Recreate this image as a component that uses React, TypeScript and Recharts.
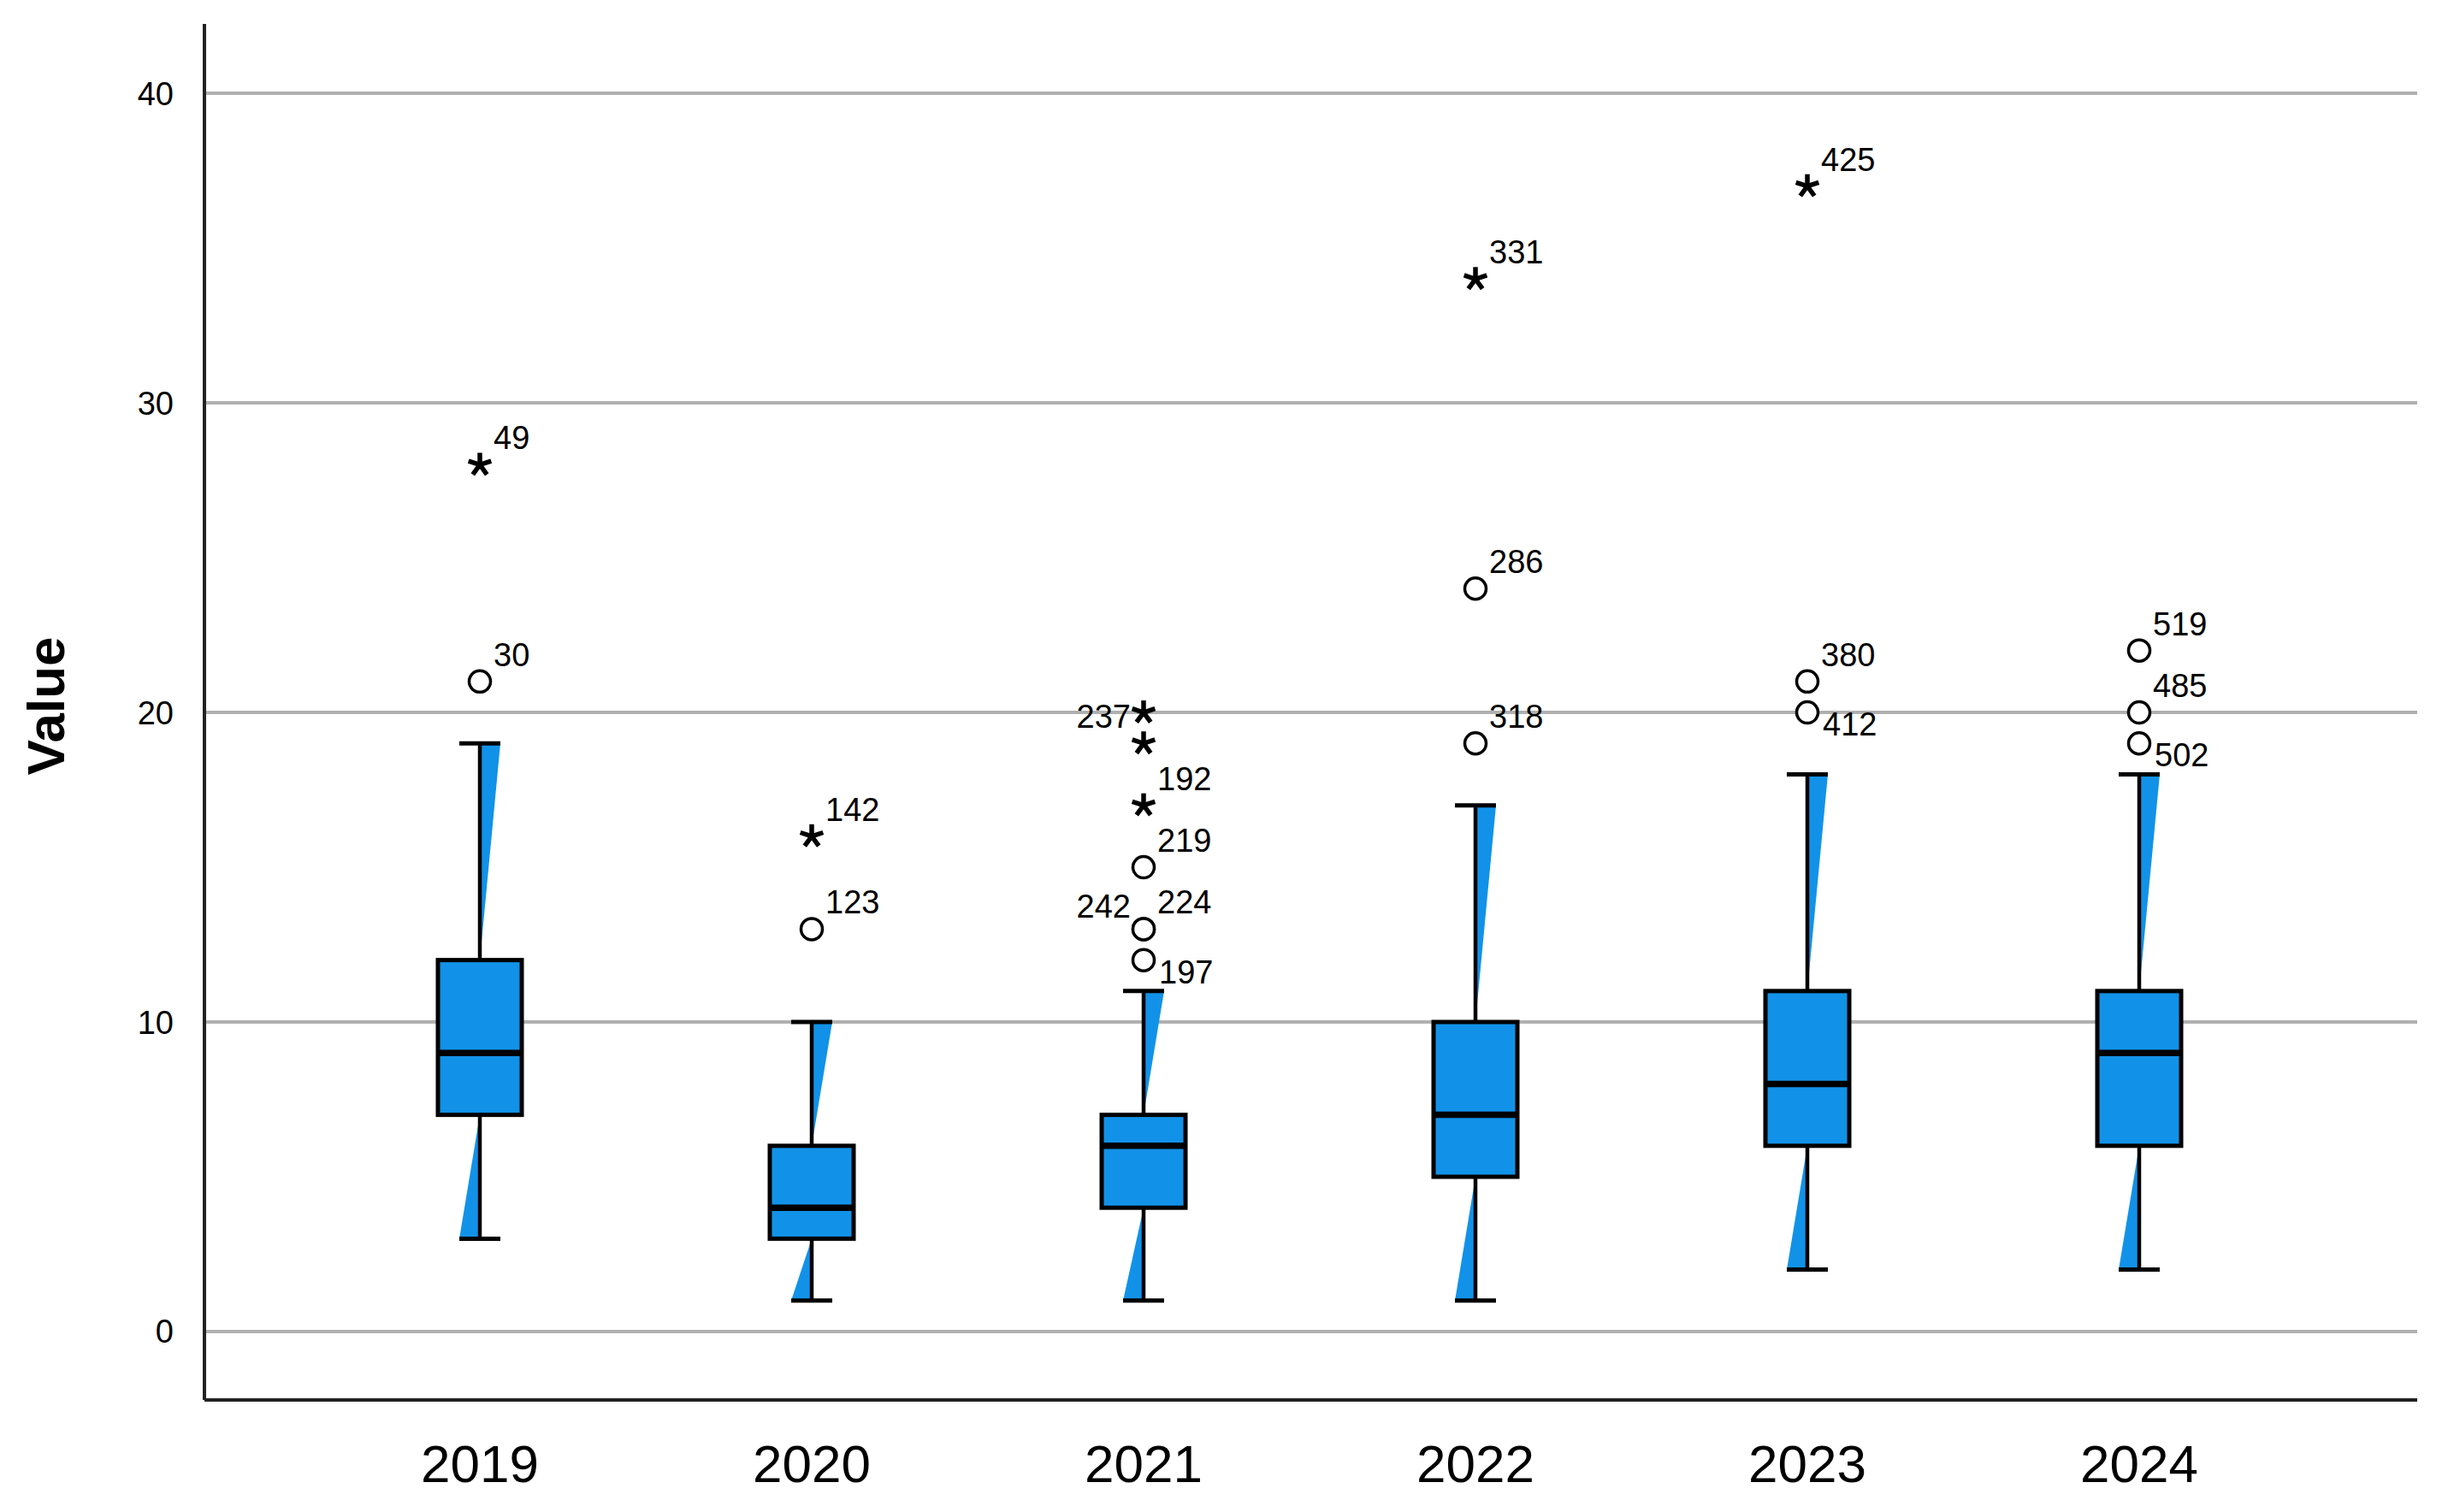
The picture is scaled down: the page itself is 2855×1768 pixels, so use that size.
import React from 'react';
import { ComposedChart, Bar, Scatter, XAxis, YAxis, CartesianGrid } from 'recharts';

// ---- data ----
const years = ['2019', '2020', '2021', '2022', '2023', '2024'];
const mins = [3, 1, 1, 1, 2, 2];
const q1s = [7, 3, 4, 5, 6, 6];
const medians = [9, 4, 6, 7, 8, 9];
const q3s = [12, 6, 7, 10, 11, 11];
const maxs = [19, 10, 11, 17, 18, 18];

const outlierGroup = [0, 0, 1, 1, 2, 2, 2, 2, 2, 2, 2, 3, 3, 3, 4, 4, 4, 5, 5, 5];
const outlierValue = [21, 28, 13, 16, 12, 13, 13, 15, 17, 19, 20, 19, 24, 34, 20, 21, 37, 19, 20, 22];
const outlierKind = ['o', '*', 'o', '*', 'o', 'o', 'o', 'o', '*', '*', '*', 'o', 'o', '*', 'o', 'o', '*', 'o', 'o', 'o'];
const outlierLabel = ['30', '49', '123', '142', '197', '242', '224', '219', '192', '', '237', '318', '286', '331', '412', '380', '425', '502', '485', '519'];
// label placement relative to the marker: ur = upper right, lr = lower right, ul = upper left, l = left
const labelPlacement = ['ur', 'ur', 'ur', 'ur', 'lr', 'ul', 'ur', 'ur', 'ur', 'ur', 'l', 'ur', 'ur', 'ur', 'lr', 'ur', 'ur', 'lr', 'ur', 'ur'];

const yTicks = [0, 10, 20, 30, 40];
const xTicks = [0, 1, 2, 3, 4, 5];

// ---- styles ----
const FONT = '"Liberation Sans", Arial, Helvetica, sans-serif';
const BLUE = '#1192E8';
const BOX_W = 98;
const CAP_HALF = 24;
const X_DOMAIN: [number, number] = [-0.8299, 5.8376];
const Y_DOMAIN: [number, number] = [-2.21, 42.24];

const boxData = years.map((year, i) => ({
  x: i,
  year,
  min: mins[i],
  q1: q1s[i],
  median: medians[i],
  q3: q3s[i],
  max: maxs[i],
}));

const outlierData = outlierValue.map((v, i) => ({
  x: outlierGroup[i],
  v,
  kind: outlierKind[i],
  label: outlierLabel[i],
  place: labelPlacement[i],
}));

function span(props: any) {
  const { x, y, width, height } = props;
  const top = Math.min(y, y + height);
  const bot = Math.max(y, y + height);
  return { cx: x + width / 2, top, bot, x, width };
}

const UpperWhisker = (props: any) => {
  const { cx, top, bot } = span(props);
  return (
    <g>
      <polygon points={`${cx},${bot} ${cx},${top} ${cx + CAP_HALF},${top}`} fill={BLUE} />
      <line x1={cx} y1={top} x2={cx} y2={bot} stroke="#000" strokeWidth={4.5} />
      <line x1={cx - CAP_HALF} y1={top} x2={cx + CAP_HALF} y2={top} stroke="#000" strokeWidth={5} />
    </g>
  );
};

const LowerWhisker = (props: any) => {
  const { cx, top, bot } = span(props);
  return (
    <g>
      <polygon points={`${cx},${top} ${cx},${bot} ${cx - CAP_HALF},${bot}`} fill={BLUE} />
      <line x1={cx} y1={top} x2={cx} y2={bot} stroke="#000" strokeWidth={4.5} />
      <line x1={cx - CAP_HALF} y1={bot} x2={cx + CAP_HALF} y2={bot} stroke="#000" strokeWidth={5} />
    </g>
  );
};

const BoxShape = (props: any) => {
  const { x, width, top, bot } = span(props);
  return <rect x={x} y={top} width={width} height={bot - top} fill={BLUE} stroke="#000" strokeWidth={5} />;
};

const MedianShape = (props: any) => {
  const { cx, cy } = props;
  return <line x1={cx - BOX_W / 2} y1={cy} x2={cx + BOX_W / 2} y2={cy} stroke="#000" strokeWidth={7.5} />;
};

const OutlierShape = (props: any) => {
  const { cx, cy, payload } = props;
  const L = 14;
  let marker;
  if (payload.kind === 'o') {
    marker = <circle cx={cx} cy={cy} r={12.5} fill="#fff" stroke="#000" strokeWidth={3.5} />;
  } else {
    const arms = [0, 1, 2, 3, 4].map((k) => {
      const a = ((-90 + 72 * k) * Math.PI) / 180;
      return <line key={k} x1={cx} y1={cy} x2={cx + L * Math.cos(a)} y2={cy + L * Math.sin(a)} stroke="#000" strokeWidth={5.5} />;
    });
    marker = <g>{arms}</g>;
  }
  let tx = cx + 16;
  let ty = cy - 18;
  let anchor: any = 'start';
  if (payload.place === 'lr') {
    tx = cx + 18;
    ty = cy + 27;
  } else if (payload.place === 'ul') {
    tx = cx - 15;
    ty = cy - 13;
    anchor = 'end';
  } else if (payload.place === 'l') {
    tx = cx - 15;
    ty = cy + 18;
    anchor = 'end';
  }
  return (
    <g>
      {marker}
      {payload.label ? (
        <text x={tx} y={ty} textAnchor={anchor} fontFamily={FONT} fontSize={38} fill="#000">
          {payload.label}
        </text>
      ) : null}
    </g>
  );
};

const renderValueLabel = (props: any) => {
  const vb = props.viewBox || { x: 0, y: 28, width: 239, height: 1609 };
  const x = vb.x + 53;
  const y = vb.y + vb.height / 2 - 7;
  return (
    <text
      x={x}
      y={y}
      transform={`rotate(-90, ${x}, ${y})`}
      textAnchor="middle"
      dominantBaseline="central"
      fontFamily={FONT}
      fontWeight="bold"
      fontSize={62}
      fill="#000"
    >
      Value
    </text>
  );
};

export default function App() {
  return (
    <div style={{ position: 'absolute', left: 0, top: 0, width: 2855, height: 1768, background: '#fff' }}>
      <ComposedChart width={2855} height={1768} data={boxData} margin={{ top: 28, right: 29, bottom: 0, left: 0 }}>
        <CartesianGrid
          xAxisId="main"
          vertical={false}
          horizontalValues={yTicks}
          syncWithTicks
          stroke="#b0b0b0"
          strokeWidth={4}
        />
        <XAxis
          xAxisId="main"
          dataKey="x"
          type="number"
          domain={X_DOMAIN}
          allowDataOverflow
          ticks={xTicks}
          interval={0}
          tickFormatter={(i: number) => years[i] ?? ''}
          height={131}
          tickLine={false}
          tickSize={0}
          tickMargin={52}
          axisLine={{ stroke: '#222', strokeWidth: 4 }}
          tick={{ fontSize: 62, fill: '#000', fontFamily: FONT }}
        />
        <XAxis xAxisId="b" dataKey="x" type="number" domain={X_DOMAIN} allowDataOverflow ticks={xTicks} height={0} hide />
        <XAxis xAxisId="c" dataKey="x" type="number" domain={X_DOMAIN} allowDataOverflow ticks={xTicks} height={0} hide />
        <YAxis
          type="number"
          domain={Y_DOMAIN}
          allowDataOverflow
          ticks={yTicks}
          interval={0}
          width={239}
          tickLine={false}
          tickSize={0}
          tickMargin={36}
          axisLine={{ stroke: '#222', strokeWidth: 4 }}
          tick={{ fontSize: 38, fill: '#000', fontFamily: FONT }}
          label={{ value: 'Value', content: renderValueLabel }}
        />
        <Bar xAxisId="main" dataKey={(d: any) => [d.q3, d.max]} barSize={BOX_W} shape={UpperWhisker} isAnimationActive={false} />
        <Bar xAxisId="b" dataKey={(d: any) => [d.min, d.q1]} barSize={BOX_W} shape={LowerWhisker} isAnimationActive={false} />
        <Bar xAxisId="c" dataKey={(d: any) => [d.q1, d.q3]} barSize={BOX_W} shape={BoxShape} isAnimationActive={false} />
        <Scatter xAxisId="c" data={boxData} dataKey="median" shape={MedianShape} isAnimationActive={false} />
        <Scatter xAxisId="c" data={outlierData} dataKey="v" shape={OutlierShape} isAnimationActive={false} />
      </ComposedChart>
    </div>
  );
}
